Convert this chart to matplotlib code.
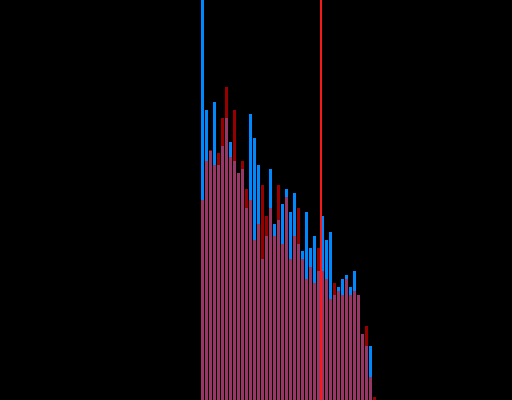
import numpy as np
import matplotlib
matplotlib.use("Agg")
import matplotlib.pyplot as plt

# alturas de las barras (conteos por bin)
blue_counts = [420, 290, 249, 298, 235, 254, 282, 258, 239, 227, 231, 192,
               286, 262, 235, 141, 164, 231, 176, 180, 196, 211, 188, 207,
               156, 149, 188, 152, 164, 129, 184, 160, 168, 105, 113, 121,
               125, 113, 129, 105, 66, 54, 54, 0]
red_counts = [200, 239, 250, 235, 247, 282, 313, 243, 290, 227, 239, 211,
              200, 160, 176, 215, 184, 192, 164, 215, 156, 203, 141, 164,
              192, 141, 121, 133, 117, 152, 129, 121, 101, 117, 109, 105,
              121, 105, 109, 105, 66, 74, 23, 3]
mean_pos = 29.875

bins = np.arange(len(blue_counts))

fig = plt.figure(figsize=(5.12, 4.0), dpi=100, facecolor="black")
ax = fig.add_axes([0, 0, 1, 1])
ax.set_facecolor("black")

# histograma azul y rojo encima con transparencia
ax.bar(bins, blue_counts, width=0.75, align="edge", color="#0088ff", linewidth=0)
ax.bar(bins, red_counts, width=0.75, align="edge", color="#ff0000", alpha=0.6, linewidth=0)

# linea de la media
ax.axvline(mean_pos, color="#ff1a1a", linewidth=1.4)

ax.set_xlim(-50.25, 77.75)
ax.set_ylim(0, 400)
ax.axis("off")

fig.savefig("out.png", dpi=100, facecolor="black")
